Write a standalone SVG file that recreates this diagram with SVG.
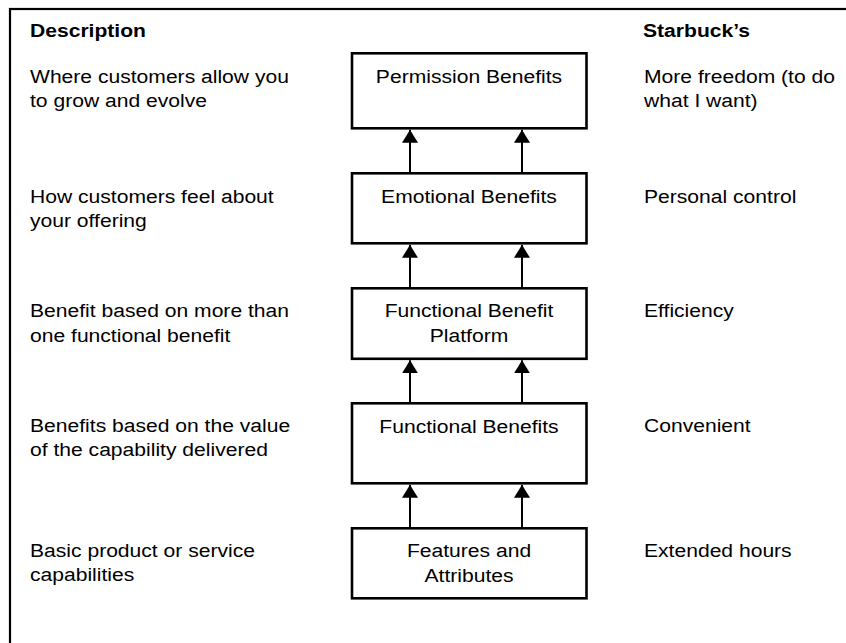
<svg xmlns="http://www.w3.org/2000/svg" width="846" height="643" viewBox="0 0 846 643">
<style>
  text { font-family: "Liberation Sans", Arial, Helvetica, sans-serif; font-size: 19px; fill: #000; }
  .hdr { font-weight: bold; }
  .mid { text-anchor: middle; }
  .box { fill: #fff; stroke: #000; stroke-width: 2.6; }
  .frame { fill: none; stroke: #000; stroke-width: 2.2; }
  .conn line { stroke: #000; stroke-width: 2; }
</style>
<defs>
  <marker id="ah" viewBox="0 0 13 16" refX="13" refY="8" markerWidth="13" markerHeight="16" markerUnits="userSpaceOnUse" orient="auto">
    <path d="M0,0 L13,8 L0,16 Z" fill="#000"/>
  </marker>
</defs>
<rect width="846" height="643" fill="#fff"/>
<rect class="frame" x="10" y="9" width="900" height="700"/>

<g id="headers">
  <text class="hdr" transform="translate(30,37) scale(1.11,1)">Description</text>
  <text class="hdr" transform="translate(643,37) scale(1.11,1)">Starbuck’s</text>
</g>

<g id="descriptions">
  <text transform="translate(30,83) scale(1.11,1)"><tspan x="0" y="0">Where customers allow you</tspan><tspan x="0" y="24.4">to grow and evolve</tspan></text>
  <text transform="translate(30,202.5) scale(1.11,1)"><tspan x="0" y="0">How customers feel about</tspan><tspan x="0" y="24.4">your offering</tspan></text>
  <text transform="translate(30,317.3) scale(1.11,1)"><tspan x="0" y="0">Benefit based on more than</tspan><tspan x="0" y="24.4">one functional benefit</tspan></text>
  <text transform="translate(30,432) scale(1.11,1)"><tspan x="0" y="0">Benefits based on the value</tspan><tspan x="0" y="24.4">of the capability delivered</tspan></text>
  <text transform="translate(30,557) scale(1.11,1)"><tspan x="0" y="0">Basic product or service</tspan><tspan x="0" y="24.4">capabilities</tspan></text>
</g>

<g id="starbucks">
  <text transform="translate(644,83) scale(1.11,1)"><tspan x="0" y="0">More freedom (to do</tspan><tspan x="0" y="24.4">what I want)</tspan></text>
  <text transform="translate(644,202.5) scale(1.11,1)">Personal control</text>
  <text transform="translate(644,317.3) scale(1.11,1)">Efficiency</text>
  <text transform="translate(644,432) scale(1.11,1)">Convenient</text>
  <text transform="translate(644,557) scale(1.11,1)">Extended hours</text>
</g>

<g id="permission-benefits">
  <rect class="box" x="352" y="53.3" width="234.5" height="75"/>
  <text class="mid" transform="translate(469,83) scale(1.11,1)">Permission Benefits</text>
</g>
<g id="emotional-benefits">
  <rect class="box" x="352" y="173.3" width="234.5" height="70"/>
  <text class="mid" transform="translate(469,202.7) scale(1.11,1)">Emotional Benefits</text>
</g>
<g id="functional-benefit-platform">
  <rect class="box" x="352" y="288.3" width="234.5" height="70.5"/>
  <text class="mid" transform="translate(469,316.7) scale(1.11,1)"><tspan x="0" y="0">Functional Benefit</tspan><tspan x="0" y="25">Platform</tspan></text>
</g>
<g id="functional-benefits">
  <rect class="box" x="352" y="403.3" width="234.5" height="80"/>
  <text class="mid" transform="translate(469,433.3) scale(1.11,1)">Functional Benefits</text>
</g>
<g id="features-attributes">
  <rect class="box" x="352" y="528.3" width="234.5" height="70"/>
  <text class="mid" transform="translate(469,556.7) scale(1.11,1)"><tspan x="0" y="0">Features and</tspan><tspan x="0" y="25">Attributes</tspan></text>
</g>

<g id="connectors" class="conn">
  <line x1="410" y1="172" x2="410" y2="129.8" marker-end="url(#ah)"/>
  <line x1="522" y1="172" x2="522" y2="129.8" marker-end="url(#ah)"/>
  <line x1="410" y1="287" x2="410" y2="244.8" marker-end="url(#ah)"/>
  <line x1="522" y1="287" x2="522" y2="244.8" marker-end="url(#ah)"/>
  <line x1="410" y1="402" x2="410" y2="360.3" marker-end="url(#ah)"/>
  <line x1="522" y1="402" x2="522" y2="360.3" marker-end="url(#ah)"/>
  <line x1="410" y1="527" x2="410" y2="484.8" marker-end="url(#ah)"/>
  <line x1="522" y1="527" x2="522" y2="484.8" marker-end="url(#ah)"/>
</g>
</svg>
